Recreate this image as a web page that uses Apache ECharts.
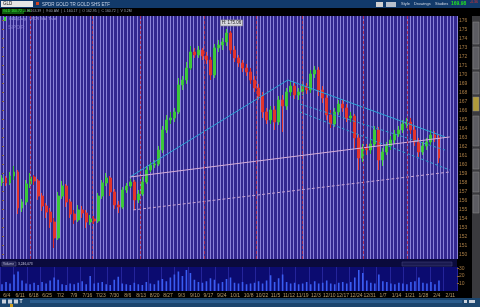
<!DOCTYPE html>
<html><head><meta charset="utf-8">
<script src="https://cdn.jsdelivr.net/npm/echarts@6/dist/echarts.min.js"></script>
<style>html,body{margin:0;padding:0;background:#000;}#c{width:480px;height:307px;}</style>
</head><body><div id="c"></div>
<script>
// ---- data (GLD, one bar ≈ one session) ----
const opens = [158.06,158.5,157.95,158.72,159.17,155.17,155.84,157.84,158.61,158.17,
156.5,155.39,154.72,153.61,151.84,156.5,157.61,155.84,154.5,153.84,
154.95,154.61,153.61,153.95,153.72,156.5,157.95,158.5,156.95,155.5,
155.28,157.17,157.61,158.06,156.06,156.72,158.06,159.39,159.95,160.06,
161.61,163.84,164.95,165.17,165.84,168.84,169.39,170.72,172.5,172.17,
172.72,172.06,171.61,169.95,172.95,173.28,173.61,174.61,172.72,171.84,
171.28,170.72,170.28,169.39,168.5,167.61,165.84,164.95,166.06,164.72,
167.17,166.5,168.06,168.72,167.72,168.06,168.72,168.28,170.06,170.5,
168.28,167.39,165.5,164.5,165.84,166.72,166.28,165.17,165.39,162.95,
160.72,161.84,161.61,162.28,163.84,160.5,161.39,162.06,162.72,163.39,
163.84,164.5,164.72,163.84,162.5,161.39,162.06,162.5,163.28,162.95];
const closes = [158.5,157.95,158.72,159.17,155.17,155.84,157.84,158.61,158.17,156.5,
155.39,154.72,153.61,151.84,156.5,157.61,155.84,154.5,153.84,154.95,
154.61,153.61,153.95,153.72,156.5,157.95,158.5,156.95,155.5,155.28,
157.17,157.61,158.06,156.06,156.72,158.06,159.39,159.95,160.06,161.61,
163.84,164.95,165.17,165.84,168.84,169.39,170.72,172.5,172.17,172.72,
172.06,171.61,169.95,172.95,173.28,173.61,174.61,172.72,171.84,171.28,
170.72,170.28,169.39,168.5,167.61,165.84,164.95,166.06,164.72,167.17,
166.5,168.06,168.72,167.72,168.06,168.72,168.28,170.06,170.5,168.28,
167.39,165.5,164.5,165.84,166.72,166.28,165.17,165.39,162.95,160.72,
161.84,161.61,162.28,163.84,160.5,161.39,162.06,162.72,163.39,163.84,
164.5,164.72,163.84,162.5,161.39,162.06,162.5,163.28,162.95,160.72];
const lows = [157.61,157.61,157.72,158.28,154.5,154.72,155.5,157.39,157.72,156.06,
154.84,154.06,152.95,150.72,151.61,156.17,155.28,154.06,153.39,153.61,
154.06,152.95,153.28,153.39,153.5,156.17,157.61,156.5,155.06,154.61,
155.06,156.84,157.39,154.95,155.72,156.5,157.84,159.17,159.61,159.84,
161.28,163.5,164.5,164.72,165.61,168.28,168.95,170.5,171.84,171.84,
171.61,171.17,169.39,169.61,172.5,172.72,173.17,172.28,171.39,170.84,
170.28,169.84,168.95,168.06,167.17,165.17,164.5,164.5,163.84,164.39,
163.61,166.06,167.61,167.28,167.17,167.72,167.84,167.95,169.61,167.61,
166.84,164.95,164.06,164.17,165.5,165.84,164.72,164.72,161.84,159.39,
160.28,161.06,161.17,161.95,159.39,159.84,161.06,161.61,162.28,163.06,
163.5,164.06,163.39,162.06,160.84,161.06,161.61,162.17,162.5,160.17];
const highs = [158.84,158.72,159.17,159.84,159.39,156.17,158.28,159.06,158.84,158.39,
156.84,155.72,155.17,154.06,156.95,158.17,157.84,156.17,154.95,155.5,
155.39,154.95,154.39,154.28,156.84,158.28,159.06,158.72,157.28,155.95,
157.5,157.95,158.39,158.28,157.17,158.61,159.84,160.28,160.5,162.06,
164.28,165.5,165.84,166.28,169.61,169.84,171.39,173.17,172.95,173.17,
172.95,172.5,171.95,173.39,173.84,174.06,175.06,174.84,173.17,172.17,
171.61,171.17,170.72,169.84,168.95,168.06,166.28,166.5,166.5,167.61,
167.72,168.5,169.17,169.06,168.5,169.17,169.06,170.5,170.95,170.84,
168.72,167.72,166.06,166.28,167.17,167.17,166.72,165.84,165.61,163.39,
162.28,162.28,162.72,164.28,164.17,161.84,162.5,163.17,163.84,164.28,
164.95,165.17,165.17,164.28,162.95,162.5,162.95,163.84,163.72,163.39];
const volumes = [9,12,10,22,26,14,10,9,11,8,
12,10,14,18,15,9,8,10,9,11,
13,9,20,10,11,12,9,8,15,19,
10,9,8,11,9,8,12,10,9,14,
16,13,18,22,26,20,28,24,15,12,
11,13,17,15,10,12,16,18,11,10,
12,9,10,11,13,10,14,21,12,17,
22,12,10,11,9,10,12,9,13,10,
11,14,10,9,11,12,10,12,18,28,
24,14,11,10,22,13,12,10,9,11,
10,9,12,13,18,11,10,12,9,14];
const dateLabels = ["6/4","6/11","6/18","6/25","7/2","7/9","7/16","7/23","7/30","8/6","8/13","8/20",
"8/27","9/3","9/10","9/17","9/24","10/1","10/8","10/22","11/5","11/12","11/19","12/3",
"12/10","12/17","12/24","12/31","1/7","1/14","1/21","1/28","2/4","2/11"];
const priceTicks = [150,151,152,153,154,155,156,157,158,159,160,161,162,163,164,165,166,167,168,169,170,171,172,173,174,175,176];
const volumeTicks = [10,20,30];
const sessionBreaks = [7,22.5,34.5,50.5,63.5,75,90,101];
// drawings: [bar position, price]
const riseLine = [[31.9,158.61],[71.3,169.39]];
const fallLine = [[71.3,169.39],[110.5,163.06]];
const channelA = [[74.3,166.72],[110.5,161.61]];
const channelB = [[74.3,165.84],[111.7,159.39]];
const baseLine = [[31.9,158.61],[111.7,163.06]];
const baseDashed = [[32.7,154.95],[111.7,159.17]];

const lastPrice = closes[closes.length - 1];
const barCats = opens.map((_, i) => String(i));
const ohlc = opens.map((o, i) => [o, closes[i], lows[i], highs[i]]);
const PAD = 113; // empty right margin bars

const chart = echarts.init(document.getElementById('c'), null, {renderer: 'canvas'});
const lineSeries = (data, color, type, extra) => Object.assign({
  type: 'line', xAxisIndex: 1, yAxisIndex: 0, data: data, showSymbol: false, symbol: 'none',
  silent: true, z: 4, lineStyle: {color: color, width: 1, type: type}, animation: false
}, extra || {});

const option = {
  animation: false,
  backgroundColor: '#000',
  grid: [
    {left: 0, right: 23, top: 16, height: 243, show: true, backgroundColor: '#33288f', borderWidth: 0},
    {left: 0, right: 23, top: 267, height: 24, show: true, backgroundColor: '#0b0b70', borderWidth: 0}
  ],
  xAxis: [
    {type: 'category', gridIndex: 0, data: barCats, max: PAD, show: false, boundaryGap: true, position: 'bottom'},
    {type: 'value', gridIndex: 0, min: -0.5, max: PAD + 0.5, show: false, position: 'bottom'},
    {type: 'value', gridIndex: 0, min: 0, max: 137, interval: 1, position: 'bottom',
     axisLine: {show: false}, axisTick: {show: false}, axisLabel: {show: false},
     splitLine: {show: true, lineStyle: {color: '#8a82d8', width: 1}}},
    {type: 'category', gridIndex: 1, data: barCats, max: PAD, show: false, boundaryGap: true, position: 'bottom'},
    {type: 'category', gridIndex: 1, data: dateLabels, position: 'bottom', boundaryGap: true,
     axisLine: {show: false}, axisTick: {show: false},
     axisLabel: {interval: 0, color: '#b89c6a', fontSize: 5, margin: 2, fontFamily: 'Liberation Sans', hideOverlap: false},
     splitLine: {show: true, interval: 0, lineStyle: {color: '#24249a', width: 1}}}
  ],
  yAxis: [
    {type: 'value', gridIndex: 0, min: 149.5, max: 176.5, position: 'right',
     axisLine: {show: false}, splitLine: {show: false},
     axisTick: {show: true, length: 2, customValues: priceTicks, lineStyle: {color: '#8a6238'}},
     axisLabel: {customValues: priceTicks, color: '#a87c44', fontSize: 5, margin: 2, fontFamily: 'Liberation Sans'}},
    {type: 'value', gridIndex: 1, min: 0, max: 32, position: 'right',
     axisLine: {show: false}, splitLine: {show: false},
     axisTick: {show: true, length: 2, customValues: volumeTicks, lineStyle: {color: '#8a6238'}},
     axisLabel: {customValues: volumeTicks, color: '#a87c44', fontSize: 5, margin: 2, fontFamily: 'Liberation Sans'}}
  ],
  series: [
    lineSeries([], '#b02a48', 'solid', {
      z: 2,
      markLine: {silent: true, symbol: 'none', label: {show: false},
        lineStyle: {color: '#b42a4a', type: [3, 2], width: 1, opacity: 0.85},
        data: sessionBreaks.map(v => ({xAxis: v}))}
    }),
    {
      type: 'candlestick', xAxisIndex: 0, yAxisIndex: 0, data: ohlc, barWidth: 2.4, z: 3,
      itemStyle: {color: '#3cc83a', color0: '#e2342c', borderColor: '#3cc83a', borderColor0: '#e2342c', borderWidth: 1},
      markPoint: {
        symbol: 'rect', symbolSize: [22, 6], symbolOffset: [5, -6],
        itemStyle: {color: '#d8d8e0', borderColor: '#888', borderWidth: 0.5},
        label: {show: true, color: '#222', fontSize: 4.5, fontFamily: 'Liberation Sans',
          formatter: p => 'H: ' + p.value.toFixed(2)},
        data: [{type: 'max', valueDim: 'highest'}]
      },
      markLine: {
        silent: true, symbol: 'none', lineStyle: {opacity: 0},
        label: {show: true, position: 'end', distance: 1, backgroundColor: '#22e022', color: '#063006',
          fontSize: 5, padding: [1, 2], fontFamily: 'Liberation Sans', formatter: () => lastPrice.toFixed(2)},
        data: [{yAxis: lastPrice}]
      }
    },
    lineSeries(riseLine, '#2aa6d6', 'solid'),
    lineSeries(fallLine, '#2aa6d6', 'solid'),
    lineSeries(channelA, '#2a9ccc', [3, 2]),
    lineSeries(channelB, '#2a9ccc', [3, 2]),
    lineSeries(baseLine, '#d8b0d8', 'solid'),
    lineSeries(baseDashed, '#c8a4d4', [3, 2]),
    {type: 'bar', xAxisIndex: 3, yAxisIndex: 1, data: volumes, barWidth: 1.6,
     itemStyle: {color: '#3a5cf2'}, silent: true}
  ],
  graphic: [
    {type: 'rect', shape: {x: 0, y: 0, width: 480, height: 8}, style: {fill: '#123a6a'}, silent: true},
    {type: 'rect', shape: {x: 1, y: 1, width: 32, height: 6}, style: {fill: '#e6e6e6'}, silent: true},
    {type: 'text', x: 3, y: 1.5, style: {text: 'GLD', fill: '#111', font: '4.5px Liberation Sans'}, silent: true},
    {type: 'rect', shape: {x: 36, y: 2, width: 3, height: 3}, style: {fill: '#d04020'}, silent: true},
    {type: 'text', x: 42, y: 2, style: {text: 'SPDR GOLD TR GOLD SHS ETF', fill: '#c8d4e8', font: '4.5px Liberation Sans'}, silent: true},
    {type: 'rect', shape: {x: 376, y: 2, width: 7, height: 5}, style: {fill: '#d0d0d0'}, silent: true},
    {type: 'rect', shape: {x: 386, y: 2, width: 10, height: 5}, style: {fill: '#b8c0cc'}, silent: true},
    {type: 'text', x: 401, y: 2, style: {text: 'Style', fill: '#d0d8e4', font: '4px Liberation Sans'}, silent: true},
    {type: 'text', x: 414, y: 2, style: {text: 'Drawings', fill: '#d0d8e4', font: '4px Liberation Sans'}, silent: true},
    {type: 'text', x: 435, y: 2, style: {text: 'Studies', fill: '#d0d8e4', font: '4px Liberation Sans'}, silent: true},
    {type: 'text', x: 451, y: 1.5, style: {text: '169.98', fill: '#22e022', font: 'bold 5px Liberation Sans'}, silent: true},
    {type: 'text', x: 470, y: 0.5, style: {text: '-0.36', fill: '#e03030', font: '3.5px Liberation Sans'}, silent: true},
    {type: 'rect', shape: {x: 2, y: 9, width: 22, height: 5}, style: {fill: '#0e5a0e'}, silent: true},
    {type: 'text', x: 3, y: 9.5, style: {text: 'GLD 160.72 -0.36', fill: '#3cf03c', font: '3.5px Liberation Sans'}, silent: true},
    {type: 'text', x: 27, y: 9.5, style: {text: 'H 163.39  |  9:00 AM  |  L 160.17  |  O 162.95  |  C 160.72  |  V 3.2M', fill: '#9aa0b0', font: '3.5px Liberation Sans'}, silent: true},
    {type: 'rect', shape: {x: 3, y: 17, width: 4, height: 4}, style: {fill: '#30d030'}, silent: true},
    {type: 'text', x: 9, y: 17, style: {text: 'GLD (Daily)  SPDR Gold Trust', fill: '#aaa0e8', font: '3.5px Liberation Sans'}, silent: true},
    {type: 'text', x: 8, y: 24, style: {text: 'SPDR', fill: 'rgba(200,190,255,0.35)', font: 'bold 6px Liberation Sans'}, silent: true},
    {type: 'rect', shape: {x: 0, y: 259, width: 457, height: 8}, style: {fill: '#0a0a3c'}, silent: true},
    {type: 'rect', shape: {x: 2, y: 262, width: 14, height: 4}, style: {fill: '#1a1a50', stroke: '#6a6a90', lineWidth: 0.5}, silent: true},
    {type: 'text', x: 3, y: 262.3, style: {text: 'Volume', fill: '#c8c8e0', font: '3.3px Liberation Sans'}, silent: true},
    {type: 'text', x: 18, y: 262.3, style: {text: '3,246,073', fill: '#c8c8e0', font: '3.3px Liberation Sans'}, silent: true},
    {type: 'rect', shape: {x: 402, y: 262, width: 50, height: 4}, style: {fill: '#1a1a50', stroke: '#4a4a80', lineWidth: 0.5}, silent: true},
    {type: 'rect', shape: {x: 472, y: 16, width: 8, height: 282}, style: {fill: '#3a3a3e'}, silent: true},
    {type: 'rect', shape: {x: 473, y: 22, width: 6, height: 22}, style: {fill: '#5c5c62', stroke: '#888', lineWidth: 0.5}, silent: true},
    {type: 'rect', shape: {x: 473, y: 47, width: 6, height: 22}, style: {fill: '#5c5c62', stroke: '#888', lineWidth: 0.5}, silent: true},
    {type: 'rect', shape: {x: 473, y: 72, width: 6, height: 22}, style: {fill: '#5c5c62', stroke: '#888', lineWidth: 0.5}, silent: true},
    {type: 'rect', shape: {x: 473, y: 97, width: 6, height: 14}, style: {fill: '#b09a3a', stroke: '#888', lineWidth: 0.5}, silent: true},
    {type: 'rect', shape: {x: 473, y: 116, width: 6, height: 30}, style: {fill: '#5c5c62', stroke: '#888', lineWidth: 0.5}, silent: true},
    {type: 'rect', shape: {x: 473, y: 149, width: 6, height: 20}, style: {fill: '#5c5c62', stroke: '#888', lineWidth: 0.5}, silent: true},
    {type: 'rect', shape: {x: 473, y: 172, width: 6, height: 20}, style: {fill: '#5c5c62', stroke: '#888', lineWidth: 0.5}, silent: true},
    {type: 'rect', shape: {x: 473, y: 195, width: 6, height: 18}, style: {fill: '#5c5c62', stroke: '#888', lineWidth: 0.5}, silent: true},
    {type: 'rect', shape: {x: 0, y: 298, width: 480, height: 9}, style: {fill: '#1b456e'}, silent: true},
    {type: 'rect', shape: {x: 30, y: 300, width: 432, height: 3}, style: {fill: '#2b5d8e'}, silent: true},
    {type: 'rect', shape: {x: 2, y: 299.5, width: 4, height: 4}, style: {fill: '#c8d0dc'}, silent: true},
    {type: 'rect', shape: {x: 8, y: 299.5, width: 4, height: 4}, style: {fill: '#c8d0dc'}, silent: true},
    {type: 'rect', shape: {x: 14, y: 299.5, width: 4, height: 4}, style: {fill: '#c8d0dc'}, silent: true},
    {type: 'text', x: 19.5, y: 299, style: {text: 'T', fill: '#e0e6ee', font: 'bold 5px Liberation Sans'}, silent: true},
    {type: 'rect', shape: {x: 10, y: 304, width: 3, height: 3}, style: {fill: '#d0a020'}, silent: true},
    {type: 'rect', shape: {x: 464, y: 300, width: 3, height: 3}, style: {fill: '#c8d0dc'}, silent: true},
    {type: 'rect', shape: {x: 469, y: 300, width: 6, height: 3}, style: {fill: '#c8d0dc'}, silent: true}
  ]
};
chart.setOption(option);
</script>
</body></html>
